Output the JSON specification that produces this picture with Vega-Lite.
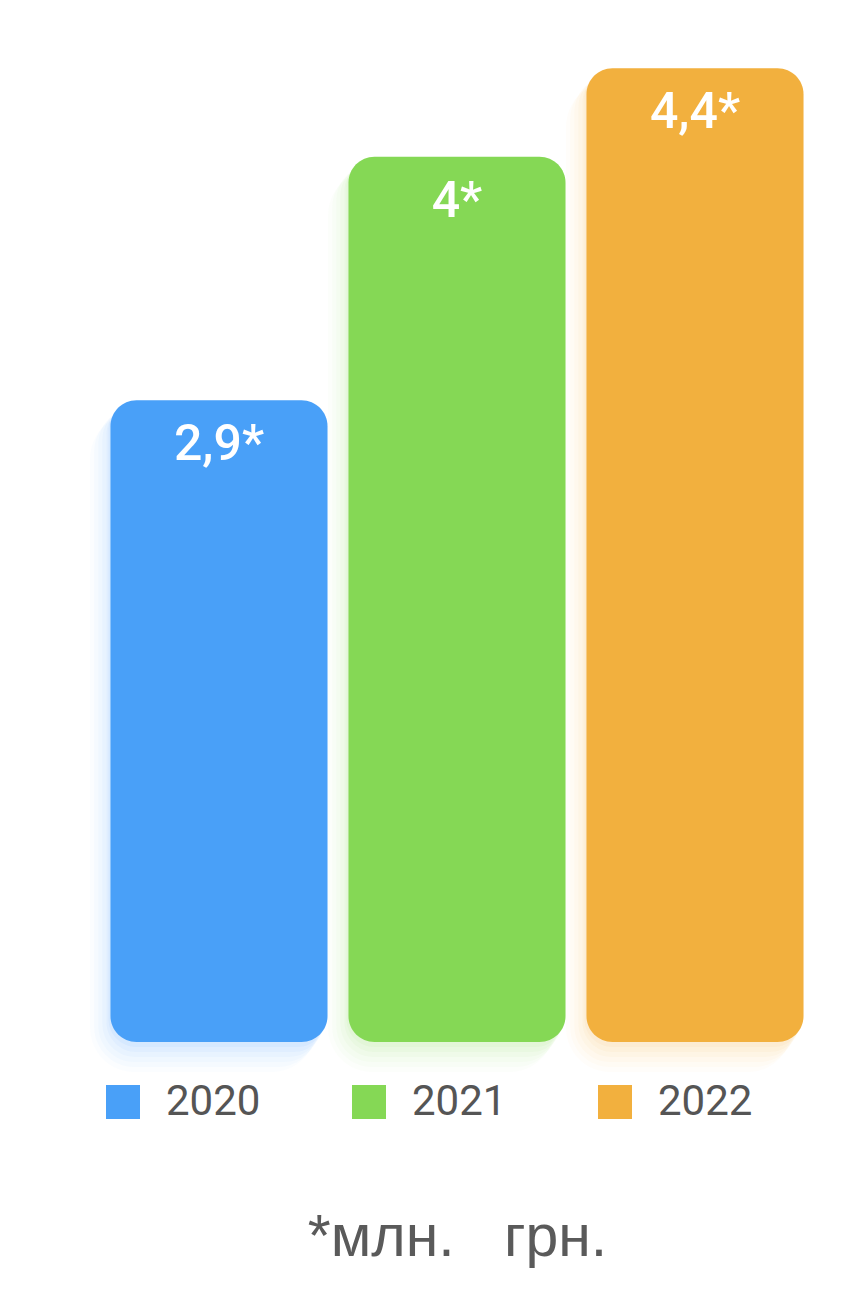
{
  "$schema": "https://vega.github.io/schema/vega-lite/v6.json",
  "autosize": {"type": "none"},
  "width": 714,
  "height": 996,
  "padding": {"left": 100, "top": 46, "right": 48, "bottom": 250},
  "background": "#ffffff",
  "config": {"view": {"stroke": null}, "font": "Roboto"},
  "data": {"values": [
    {"year": "2020", "value": 2.9, "label": "2,9*"},
    {"year": "2021", "value": 4.0, "label": "4*"},
    {"year": "2022", "value": 4.4, "label": "4,4*"}
  ]},
  "encoding": {
    "x": {"field": "year", "type": "nominal",
      "scale": {"paddingInner": 0.088, "paddingOuter": 0.044},
      "axis": {"labels": false, "ticks": false, "domain": false, "title": "*млн.\u00a0\u00a0\u00a0грн.",
        "titleFontSize": 59, "titleFontWeight": "normal", "titleColor": "#5a5a5a",
        "titlePadding": 166, "titleFont": "Liberation Sans"}},
    "y": {"field": "value", "type": "quantitative", "stack": null, "scale": {"domain": [0, 4.5]}, "axis": null},
    "color": {"field": "year", "type": "nominal",
      "scale": {"domain": ["2020", "2021", "2022"], "range": ["#49A0F8", "#85D855", "#F2B03E"]},
      "legend": {"orient": "none", "direction": "horizontal", "columns": 3, "title": null,
        "legendX": 2, "legendY": 1035, "symbolType": "square", "symbolSize": 1156,
        "symbolStrokeWidth": 0, "symbolOpacity": 1, "labelFontSize": 42, "labelColor": "#555555",
        "labelOffset": 22, "columnPadding": 87, "labelFont": "Roboto"}}
  },
  "layer": [
    {"mark": {"type": "bar", "cornerRadius": 44, "opacity": 0.025, "xOffset": -16, "yOffset": 14, "y2Offset": 30, "width": {"band": 1.04}}, "encoding": {"y2": {"datum": 0}}},
    {"mark": {"type": "bar", "cornerRadius": 40, "opacity": 0.03, "xOffset": -13, "yOffset": 11, "y2Offset": 25, "width": {"band": 1.03}}, "encoding": {"y2": {"datum": 0}}},
    {"mark": {"type": "bar", "cornerRadius": 36, "opacity": 0.035, "xOffset": -10, "yOffset": 8, "y2Offset": 20, "width": {"band": 1.02}}, "encoding": {"y2": {"datum": 0}}},
    {"mark": {"type": "bar", "cornerRadius": 33, "opacity": 0.04, "xOffset": -7, "yOffset": 6, "y2Offset": 15, "width": {"band": 1.01}}, "encoding": {"y2": {"datum": 0}}},
    {"mark": {"type": "bar", "cornerRadius": 30, "opacity": 0.05, "xOffset": -4, "yOffset": 4, "y2Offset": 10}, "encoding": {"y2": {"datum": 0}}},
    {"mark": {"type": "bar", "cornerRadius": 28, "opacity": 0.06, "xOffset": -2, "yOffset": 2, "y2Offset": 5}, "encoding": {"y2": {"datum": 0}}},
    {"mark": {"type": "bar", "cornerRadius": 26}},
    {
      "mark": {"type": "text", "baseline": "top", "dy": 20, "fontSize": 50, "fontWeight": 500, "color": "#ffffff"},
      "encoding": {"text": {"field": "label"}, "color": {"value": "#ffffff"}}
    }
  ]
}
